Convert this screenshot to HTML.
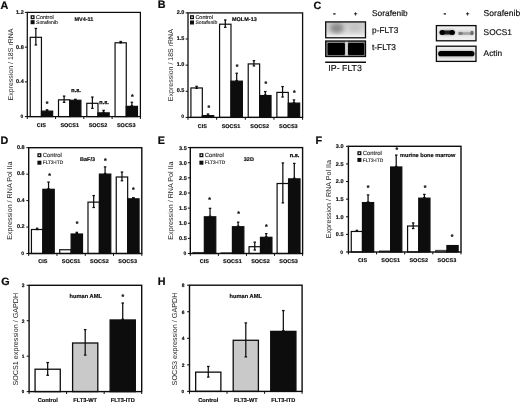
<!DOCTYPE html>
<html><head><meta charset="utf-8"><title>Figure</title>
<style>
html,body{margin:0;padding:0;background:#fff;}
svg{display:block;will-change:transform;text-rendering:geometricPrecision;font-family:"Liberation Sans",sans-serif;}
</style></head><body>
<svg width="520" height="402" viewBox="0 0 520 402">
<defs>
<filter id="b1" x="-30%" y="-30%" width="160%" height="160%"><feGaussianBlur stdDeviation="1.1"/></filter>
<filter id="b2" x="-30%" y="-30%" width="160%" height="160%"><feGaussianBlur stdDeviation="2.2"/></filter>
<filter id="b05" x="-30%" y="-30%" width="160%" height="160%"><feGaussianBlur stdDeviation="0.6"/></filter>
<linearGradient id="pg" x1="0" y1="0" x2="0" y2="1"><stop offset="0" stop-color="#c6c6c6"/><stop offset="0.6" stop-color="#d8d8d8"/><stop offset="1" stop-color="#ececec"/></linearGradient>
<clipPath id="cp1"><rect x="325.7" y="21.9" width="39.8" height="15.9"/></clipPath>
<clipPath id="cp2"><rect x="325.7" y="41" width="39.8" height="15.5"/></clipPath>
<clipPath id="cp3"><rect x="436.4" y="25.6" width="39.6" height="15.2"/></clipPath>
<clipPath id="cp4"><rect x="436.4" y="46.2" width="39.6" height="15.2"/></clipPath>
</defs>
<rect width="520" height="402" fill="#fff"/>

<rect x="30.24" y="37.31" width="11.20" height="79.29" fill="#fff" stroke="#0d0d0d" stroke-width="1.2"/>
<line x1="35.84" y1="28.46" x2="35.84" y2="44.96" stroke="#0d0d0d" stroke-width="1.25"/>
<line x1="34.59" y1="28.46" x2="37.09" y2="28.46" stroke="#0d0d0d" stroke-width="1.25"/>
<line x1="34.59" y1="44.96" x2="37.09" y2="44.96" stroke="#0d0d0d" stroke-width="1.25"/>
<rect x="41.44" y="111.12" width="11.20" height="5.48" fill="#0d0d0d" stroke="#0d0d0d" stroke-width="1.2"/>
<line x1="47.04" y1="109.83" x2="47.04" y2="110.52" stroke="#0d0d0d" stroke-width="1.25"/>
<line x1="45.79" y1="109.83" x2="48.29" y2="109.83" stroke="#0d0d0d" stroke-width="1.25"/>
<line x1="45.79" y1="110.52" x2="48.29" y2="110.52" stroke="#0d0d0d" stroke-width="1.25"/>
<rect x="58.51" y="99.83" width="11.20" height="16.77" fill="#fff" stroke="#0d0d0d" stroke-width="1.2"/>
<line x1="64.11" y1="96.11" x2="64.11" y2="102.36" stroke="#0d0d0d" stroke-width="1.25"/>
<line x1="62.86" y1="96.11" x2="65.36" y2="96.11" stroke="#0d0d0d" stroke-width="1.25"/>
<line x1="62.86" y1="102.36" x2="65.36" y2="102.36" stroke="#0d0d0d" stroke-width="1.25"/>
<rect x="69.71" y="100.27" width="11.20" height="16.33" fill="#0d0d0d" stroke="#0d0d0d" stroke-width="1.2"/>
<line x1="75.31" y1="99.32" x2="75.31" y2="99.67" stroke="#0d0d0d" stroke-width="1.25"/>
<line x1="74.06" y1="99.32" x2="76.56" y2="99.32" stroke="#0d0d0d" stroke-width="1.25"/>
<line x1="74.06" y1="99.67" x2="76.56" y2="99.67" stroke="#0d0d0d" stroke-width="1.25"/>
<rect x="86.79" y="103.31" width="11.20" height="13.29" fill="#fff" stroke="#0d0d0d" stroke-width="1.2"/>
<line x1="92.39" y1="97.06" x2="92.39" y2="108.35" stroke="#0d0d0d" stroke-width="1.25"/>
<line x1="91.14" y1="97.06" x2="93.64" y2="97.06" stroke="#0d0d0d" stroke-width="1.25"/>
<line x1="91.14" y1="108.35" x2="93.64" y2="108.35" stroke="#0d0d0d" stroke-width="1.25"/>
<rect x="97.99" y="112.86" width="11.20" height="3.74" fill="#0d0d0d" stroke="#0d0d0d" stroke-width="1.2"/>
<line x1="103.59" y1="110.35" x2="103.59" y2="112.26" stroke="#0d0d0d" stroke-width="1.25"/>
<line x1="102.34" y1="110.35" x2="104.84" y2="110.35" stroke="#0d0d0d" stroke-width="1.25"/>
<line x1="102.34" y1="112.26" x2="104.84" y2="112.26" stroke="#0d0d0d" stroke-width="1.25"/>
<rect x="115.06" y="42.78" width="11.20" height="73.82" fill="#fff" stroke="#0d0d0d" stroke-width="1.2"/>
<line x1="120.66" y1="41.49" x2="120.66" y2="42.88" stroke="#0d0d0d" stroke-width="1.25"/>
<line x1="119.41" y1="41.49" x2="121.91" y2="41.49" stroke="#0d0d0d" stroke-width="1.25"/>
<line x1="119.41" y1="42.88" x2="121.91" y2="42.88" stroke="#0d0d0d" stroke-width="1.25"/>
<rect x="126.26" y="106.35" width="11.20" height="10.25" fill="#0d0d0d" stroke="#0d0d0d" stroke-width="1.2"/>
<line x1="131.86" y1="102.27" x2="131.86" y2="105.75" stroke="#0d0d0d" stroke-width="1.25"/>
<line x1="130.61" y1="102.27" x2="133.11" y2="102.27" stroke="#0d0d0d" stroke-width="1.25"/>
<line x1="130.61" y1="105.75" x2="133.11" y2="105.75" stroke="#0d0d0d" stroke-width="1.25"/>
<rect x="27.30" y="12.40" width="113.10" height="104.20" fill="none" stroke="#0d0d0d" stroke-width="1.25"/>
<line x1="24.90" y1="12.40" x2="27.30" y2="12.40" stroke="#0d0d0d" stroke-width="1.0"/>
<text font-size="55.0" font-weight="bold" stroke="#0d0d0d" stroke-width="1.80" text-anchor="end" fill="#0d0d0d" transform="translate(23.70 13.80) rotate(0.03) scale(0.1)">1.2</text>
<line x1="24.90" y1="47.13" x2="27.30" y2="47.13" stroke="#0d0d0d" stroke-width="1.0"/>
<text font-size="55.0" font-weight="bold" stroke="#0d0d0d" stroke-width="1.80" text-anchor="end" fill="#0d0d0d" transform="translate(23.70 48.53) rotate(0.03) scale(0.1)">0.8</text>
<line x1="24.90" y1="81.87" x2="27.30" y2="81.87" stroke="#0d0d0d" stroke-width="1.0"/>
<text font-size="55.0" font-weight="bold" stroke="#0d0d0d" stroke-width="1.80" text-anchor="end" fill="#0d0d0d" transform="translate(23.70 83.27) rotate(0.03) scale(0.1)">0.4</text>
<line x1="24.90" y1="116.60" x2="27.30" y2="116.60" stroke="#0d0d0d" stroke-width="1.0"/>
<text font-size="49.5" font-weight="bold" stroke="#0d0d0d" stroke-width="1.80" text-anchor="end" fill="#0d0d0d" transform="translate(23.20 117.90) rotate(0.03) scale(0.1)">0</text>
<line x1="27.30" y1="116.60" x2="27.30" y2="119.00" stroke="#0d0d0d" stroke-width="1.0"/>
<line x1="55.58" y1="116.60" x2="55.58" y2="119.00" stroke="#0d0d0d" stroke-width="1.0"/>
<line x1="83.85" y1="116.60" x2="83.85" y2="119.00" stroke="#0d0d0d" stroke-width="1.0"/>
<line x1="112.12" y1="116.60" x2="112.12" y2="119.00" stroke="#0d0d0d" stroke-width="1.0"/>
<line x1="140.40" y1="116.60" x2="140.40" y2="119.00" stroke="#0d0d0d" stroke-width="1.0"/>
<text font-size="55.0" font-weight="bold" stroke="#0d0d0d" stroke-width="1.80" text-anchor="middle" fill="#0d0d0d" transform="translate(41.44 126.80) rotate(0.03) scale(0.1)">CIS</text>
<text font-size="55.0" font-weight="bold" stroke="#0d0d0d" stroke-width="1.80" text-anchor="middle" fill="#0d0d0d" transform="translate(69.71 126.80) rotate(0.03) scale(0.1)">SOCS1</text>
<text font-size="55.0" font-weight="bold" stroke="#0d0d0d" stroke-width="1.80" text-anchor="middle" fill="#0d0d0d" transform="translate(97.99 126.80) rotate(0.03) scale(0.1)">SOCS2</text>
<text font-size="55.0" font-weight="bold" stroke="#0d0d0d" stroke-width="1.80" text-anchor="middle" fill="#0d0d0d" transform="translate(126.26 126.80) rotate(0.03) scale(0.1)">SOCS3</text>
<text font-size="70.0" text-anchor="middle" fill="#222" transform="translate(12.60 64.50) rotate(-90) scale(0.1)">Expression / 18S rRNA</text>
<text font-size="108.0" font-weight="bold" stroke="#0d0d0d" stroke-width="2.50" text-anchor="start" fill="#0d0d0d" transform="translate(0.60 9.40) rotate(0.03) scale(0.1)">A</text>
<rect x="31.25" y="15.85" width="2.70" height="2.70" fill="#fff" stroke="#0d0d0d" stroke-width="1.3"/>
<rect x="31.25" y="20.85" width="2.70" height="2.70" fill="#0d0d0d" stroke="#0d0d0d" stroke-width="1.3"/>
<text font-size="55.0" stroke="#1c1c1c" stroke-width="1.40" text-anchor="start" fill="#1c1c1c" transform="translate(36.00 19.00) rotate(0.03) scale(0.1)">Control</text>
<text font-size="51.0" stroke="#1c1c1c" stroke-width="1.40" text-anchor="start" fill="#1c1c1c" transform="translate(36.00 23.90) rotate(0.03) scale(0.1)">Sorafenib</text>
<text font-size="55.0" font-weight="bold" stroke="#0d0d0d" stroke-width="1.80" text-anchor="start" fill="#0d0d0d" transform="translate(74.40 20.90) rotate(0.03) scale(0.1)">MV4-11</text>
<text font-size="69" font-weight="bold" stroke="#0d0d0d" stroke-width="2.2" text-anchor="middle" fill="#0d0d0d" transform="translate(47.00 106.35) rotate(0.03) scale(0.1)">*</text>
<text font-size="69" font-weight="bold" stroke="#0d0d0d" stroke-width="2.2" text-anchor="middle" fill="#0d0d0d" transform="translate(132.30 98.65) rotate(0.03) scale(0.1)">*</text>
<text font-size="55.0" font-weight="bold" stroke="#0d0d0d" stroke-width="3.20" text-anchor="start" fill="#0d0d0d" transform="translate(71.30 91.60) rotate(0.03) scale(0.1)">n.s.</text>
<text font-size="55.0" font-weight="bold" stroke="#0d0d0d" stroke-width="3.20" text-anchor="start" fill="#0d0d0d" transform="translate(99.30 103.50) rotate(0.03) scale(0.1)">n.s.</text>
<rect x="190.92" y="87.96" width="11.40" height="29.44" fill="#fff" stroke="#0d0d0d" stroke-width="1.2"/>
<line x1="196.62" y1="86.31" x2="196.62" y2="88.40" stroke="#0d0d0d" stroke-width="1.25"/>
<line x1="195.37" y1="86.31" x2="197.87" y2="86.31" stroke="#0d0d0d" stroke-width="1.25"/>
<line x1="195.37" y1="88.40" x2="197.87" y2="88.40" stroke="#0d0d0d" stroke-width="1.25"/>
<rect x="202.32" y="115.65" width="11.40" height="1.75" fill="#0d0d0d" stroke="#0d0d0d" stroke-width="1.2"/>
<line x1="208.02" y1="114.00" x2="208.02" y2="115.05" stroke="#0d0d0d" stroke-width="1.25"/>
<line x1="206.77" y1="114.00" x2="209.27" y2="114.00" stroke="#0d0d0d" stroke-width="1.25"/>
<line x1="206.77" y1="115.05" x2="209.27" y2="115.05" stroke="#0d0d0d" stroke-width="1.25"/>
<rect x="219.58" y="24.21" width="11.40" height="93.19" fill="#fff" stroke="#0d0d0d" stroke-width="1.2"/>
<line x1="225.28" y1="19.95" x2="225.28" y2="27.27" stroke="#0d0d0d" stroke-width="1.25"/>
<line x1="224.03" y1="19.95" x2="226.53" y2="19.95" stroke="#0d0d0d" stroke-width="1.25"/>
<line x1="224.03" y1="27.27" x2="226.53" y2="27.27" stroke="#0d0d0d" stroke-width="1.25"/>
<rect x="230.98" y="81.16" width="11.40" height="36.24" fill="#0d0d0d" stroke="#0d0d0d" stroke-width="1.2"/>
<line x1="236.68" y1="73.25" x2="236.68" y2="80.56" stroke="#0d0d0d" stroke-width="1.25"/>
<line x1="235.43" y1="73.25" x2="237.93" y2="73.25" stroke="#0d0d0d" stroke-width="1.25"/>
<line x1="235.43" y1="80.56" x2="237.93" y2="80.56" stroke="#0d0d0d" stroke-width="1.25"/>
<rect x="248.22" y="63.92" width="11.40" height="53.48" fill="#fff" stroke="#0d0d0d" stroke-width="1.2"/>
<line x1="253.92" y1="60.71" x2="253.92" y2="65.93" stroke="#0d0d0d" stroke-width="1.25"/>
<line x1="252.67" y1="60.71" x2="255.17" y2="60.71" stroke="#0d0d0d" stroke-width="1.25"/>
<line x1="252.67" y1="65.93" x2="255.17" y2="65.93" stroke="#0d0d0d" stroke-width="1.25"/>
<rect x="259.62" y="95.53" width="11.40" height="21.87" fill="#0d0d0d" stroke="#0d0d0d" stroke-width="1.2"/>
<line x1="265.32" y1="91.54" x2="265.32" y2="94.93" stroke="#0d0d0d" stroke-width="1.25"/>
<line x1="264.07" y1="91.54" x2="266.57" y2="91.54" stroke="#0d0d0d" stroke-width="1.25"/>
<line x1="264.07" y1="94.93" x2="266.57" y2="94.93" stroke="#0d0d0d" stroke-width="1.25"/>
<rect x="276.88" y="92.40" width="11.40" height="25.00" fill="#fff" stroke="#0d0d0d" stroke-width="1.2"/>
<line x1="282.58" y1="86.57" x2="282.58" y2="97.02" stroke="#0d0d0d" stroke-width="1.25"/>
<line x1="281.33" y1="86.57" x2="283.83" y2="86.57" stroke="#0d0d0d" stroke-width="1.25"/>
<line x1="281.33" y1="97.02" x2="283.83" y2="97.02" stroke="#0d0d0d" stroke-width="1.25"/>
<rect x="288.28" y="103.11" width="11.40" height="14.29" fill="#0d0d0d" stroke="#0d0d0d" stroke-width="1.2"/>
<line x1="293.98" y1="99.90" x2="293.98" y2="102.51" stroke="#0d0d0d" stroke-width="1.25"/>
<line x1="292.73" y1="99.90" x2="295.23" y2="99.90" stroke="#0d0d0d" stroke-width="1.25"/>
<line x1="292.73" y1="102.51" x2="295.23" y2="102.51" stroke="#0d0d0d" stroke-width="1.25"/>
<rect x="188.00" y="12.90" width="114.60" height="104.50" fill="none" stroke="#0d0d0d" stroke-width="1.3"/>
<line x1="185.60" y1="12.90" x2="188.00" y2="12.90" stroke="#0d0d0d" stroke-width="1.0"/>
<text font-size="55.0" font-weight="bold" stroke="#0d0d0d" stroke-width="1.80" text-anchor="end" fill="#0d0d0d" transform="translate(184.40 14.00) rotate(0.03) scale(0.1)">2.0</text>
<line x1="185.60" y1="39.03" x2="188.00" y2="39.03" stroke="#0d0d0d" stroke-width="1.0"/>
<text font-size="55.0" font-weight="bold" stroke="#0d0d0d" stroke-width="1.80" text-anchor="end" fill="#0d0d0d" transform="translate(184.40 40.13) rotate(0.03) scale(0.1)">1.5</text>
<line x1="185.60" y1="65.15" x2="188.00" y2="65.15" stroke="#0d0d0d" stroke-width="1.0"/>
<text font-size="55.0" font-weight="bold" stroke="#0d0d0d" stroke-width="1.80" text-anchor="end" fill="#0d0d0d" transform="translate(184.40 66.25) rotate(0.03) scale(0.1)">1.0</text>
<line x1="185.60" y1="91.28" x2="188.00" y2="91.28" stroke="#0d0d0d" stroke-width="1.0"/>
<text font-size="55.0" font-weight="bold" stroke="#0d0d0d" stroke-width="1.80" text-anchor="end" fill="#0d0d0d" transform="translate(184.40 92.38) rotate(0.03) scale(0.1)">0.5</text>
<line x1="185.60" y1="117.40" x2="188.00" y2="117.40" stroke="#0d0d0d" stroke-width="1.0"/>
<text font-size="49.5" font-weight="bold" stroke="#0d0d0d" stroke-width="1.80" text-anchor="end" fill="#0d0d0d" transform="translate(183.90 118.40) rotate(0.03) scale(0.1)">0</text>
<line x1="188.00" y1="117.40" x2="188.00" y2="119.80" stroke="#0d0d0d" stroke-width="1.0"/>
<line x1="216.65" y1="117.40" x2="216.65" y2="119.80" stroke="#0d0d0d" stroke-width="1.0"/>
<line x1="245.30" y1="117.40" x2="245.30" y2="119.80" stroke="#0d0d0d" stroke-width="1.0"/>
<line x1="273.95" y1="117.40" x2="273.95" y2="119.80" stroke="#0d0d0d" stroke-width="1.0"/>
<line x1="302.60" y1="117.40" x2="302.60" y2="119.80" stroke="#0d0d0d" stroke-width="1.0"/>
<text font-size="55.0" font-weight="bold" stroke="#0d0d0d" stroke-width="1.80" text-anchor="middle" fill="#0d0d0d" transform="translate(202.32 128.20) rotate(0.03) scale(0.1)">CIS</text>
<text font-size="55.0" font-weight="bold" stroke="#0d0d0d" stroke-width="1.80" text-anchor="middle" fill="#0d0d0d" transform="translate(230.98 128.20) rotate(0.03) scale(0.1)">SOCS1</text>
<text font-size="55.0" font-weight="bold" stroke="#0d0d0d" stroke-width="1.80" text-anchor="middle" fill="#0d0d0d" transform="translate(259.62 128.20) rotate(0.03) scale(0.1)">SOCS2</text>
<text font-size="55.0" font-weight="bold" stroke="#0d0d0d" stroke-width="1.80" text-anchor="middle" fill="#0d0d0d" transform="translate(288.28 128.20) rotate(0.03) scale(0.1)">SOCS3</text>
<text font-size="70.0" text-anchor="middle" fill="#222" transform="translate(172.90 65.15) rotate(-90) scale(0.1)">Expression / 18S rRNA</text>
<text font-size="108.0" font-weight="bold" stroke="#0d0d0d" stroke-width="2.50" text-anchor="start" fill="#0d0d0d" transform="translate(157.70 8.40) rotate(0.03) scale(0.1)">B</text>
<rect x="190.65" y="15.85" width="2.70" height="2.70" fill="#fff" stroke="#0d0d0d" stroke-width="1.3"/>
<rect x="190.65" y="21.15" width="2.70" height="2.70" fill="#0d0d0d" stroke="#0d0d0d" stroke-width="1.3"/>
<text font-size="55.0" stroke="#1c1c1c" stroke-width="1.40" text-anchor="start" fill="#1c1c1c" transform="translate(195.40 19.00) rotate(0.03) scale(0.1)">Control</text>
<text font-size="51.0" stroke="#1c1c1c" stroke-width="1.40" text-anchor="start" fill="#1c1c1c" transform="translate(195.40 24.20) rotate(0.03) scale(0.1)">Sorafenib</text>
<text font-size="55.0" font-weight="bold" stroke="#0d0d0d" stroke-width="1.80" text-anchor="start" fill="#0d0d0d" transform="translate(232.00 20.80) rotate(0.03) scale(0.1)">MOLM-13</text>
<text font-size="69" font-weight="bold" stroke="#0d0d0d" stroke-width="2.2" text-anchor="middle" fill="#0d0d0d" transform="translate(208.75 110.10) rotate(0.03) scale(0.1)">*</text>
<text font-size="69" font-weight="bold" stroke="#0d0d0d" stroke-width="2.2" text-anchor="middle" fill="#0d0d0d" transform="translate(237.00 68.85) rotate(0.03) scale(0.1)">*</text>
<text font-size="69" font-weight="bold" stroke="#0d0d0d" stroke-width="2.2" text-anchor="middle" fill="#0d0d0d" transform="translate(265.75 85.85) rotate(0.03) scale(0.1)">*</text>
<text font-size="69" font-weight="bold" stroke="#0d0d0d" stroke-width="2.2" text-anchor="middle" fill="#0d0d0d" transform="translate(294.25 95.10) rotate(0.03) scale(0.1)">*</text>
<rect x="31.44" y="229.50" width="11.40" height="24.00" fill="#fff" stroke="#0d0d0d" stroke-width="1.2"/>
<line x1="37.14" y1="228.24" x2="37.14" y2="229.56" stroke="#0d0d0d" stroke-width="1.25"/>
<line x1="35.89" y1="228.24" x2="38.39" y2="228.24" stroke="#0d0d0d" stroke-width="1.25"/>
<line x1="35.89" y1="229.56" x2="38.39" y2="229.56" stroke="#0d0d0d" stroke-width="1.25"/>
<rect x="42.84" y="189.30" width="11.40" height="64.20" fill="#0d0d0d" stroke="#0d0d0d" stroke-width="1.2"/>
<line x1="48.54" y1="182.08" x2="48.54" y2="188.70" stroke="#0d0d0d" stroke-width="1.25"/>
<line x1="47.29" y1="182.08" x2="49.79" y2="182.08" stroke="#0d0d0d" stroke-width="1.25"/>
<line x1="47.29" y1="188.70" x2="49.79" y2="188.70" stroke="#0d0d0d" stroke-width="1.25"/>
<rect x="59.71" y="249.74" width="11.40" height="3.76" fill="#fff" stroke="#0d0d0d" stroke-width="1.2"/>
<rect x="71.11" y="234.00" width="11.40" height="19.50" fill="#0d0d0d" stroke="#0d0d0d" stroke-width="1.2"/>
<line x1="76.81" y1="232.34" x2="76.81" y2="233.40" stroke="#0d0d0d" stroke-width="1.25"/>
<line x1="75.56" y1="232.34" x2="78.06" y2="232.34" stroke="#0d0d0d" stroke-width="1.25"/>
<line x1="75.56" y1="233.40" x2="78.06" y2="233.40" stroke="#0d0d0d" stroke-width="1.25"/>
<rect x="87.99" y="202.13" width="11.40" height="51.37" fill="#fff" stroke="#0d0d0d" stroke-width="1.2"/>
<line x1="93.69" y1="195.57" x2="93.69" y2="207.48" stroke="#0d0d0d" stroke-width="1.25"/>
<line x1="92.44" y1="195.57" x2="94.94" y2="195.57" stroke="#0d0d0d" stroke-width="1.25"/>
<line x1="92.44" y1="207.48" x2="94.94" y2="207.48" stroke="#0d0d0d" stroke-width="1.25"/>
<rect x="99.39" y="174.09" width="11.40" height="79.41" fill="#0d0d0d" stroke="#0d0d0d" stroke-width="1.2"/>
<line x1="105.09" y1="166.88" x2="105.09" y2="173.49" stroke="#0d0d0d" stroke-width="1.25"/>
<line x1="103.84" y1="166.88" x2="106.34" y2="166.88" stroke="#0d0d0d" stroke-width="1.25"/>
<line x1="103.84" y1="173.49" x2="106.34" y2="173.49" stroke="#0d0d0d" stroke-width="1.25"/>
<rect x="116.26" y="177.00" width="11.40" height="76.50" fill="#fff" stroke="#0d0d0d" stroke-width="1.2"/>
<line x1="121.96" y1="172.03" x2="121.96" y2="180.76" stroke="#0d0d0d" stroke-width="1.25"/>
<line x1="120.71" y1="172.03" x2="123.21" y2="172.03" stroke="#0d0d0d" stroke-width="1.25"/>
<line x1="120.71" y1="180.76" x2="123.21" y2="180.76" stroke="#0d0d0d" stroke-width="1.25"/>
<rect x="127.66" y="198.82" width="11.40" height="54.68" fill="#0d0d0d" stroke="#0d0d0d" stroke-width="1.2"/>
<line x1="133.36" y1="197.69" x2="133.36" y2="198.22" stroke="#0d0d0d" stroke-width="1.25"/>
<line x1="132.11" y1="197.69" x2="134.61" y2="197.69" stroke="#0d0d0d" stroke-width="1.25"/>
<line x1="132.11" y1="198.22" x2="134.61" y2="198.22" stroke="#0d0d0d" stroke-width="1.25"/>
<rect x="28.70" y="147.70" width="113.10" height="105.80" fill="none" stroke="#0d0d0d" stroke-width="1.4"/>
<line x1="26.30" y1="147.70" x2="28.70" y2="147.70" stroke="#0d0d0d" stroke-width="1.0"/>
<text font-size="55.0" font-weight="bold" stroke="#0d0d0d" stroke-width="1.80" text-anchor="end" fill="#0d0d0d" transform="translate(24.60 149.00) rotate(0.03) scale(0.1)">0.8</text>
<line x1="26.30" y1="174.15" x2="28.70" y2="174.15" stroke="#0d0d0d" stroke-width="1.0"/>
<text font-size="55.0" font-weight="bold" stroke="#0d0d0d" stroke-width="1.80" text-anchor="end" fill="#0d0d0d" transform="translate(24.60 175.45) rotate(0.03) scale(0.1)">0.6</text>
<line x1="26.30" y1="200.60" x2="28.70" y2="200.60" stroke="#0d0d0d" stroke-width="1.0"/>
<text font-size="55.0" font-weight="bold" stroke="#0d0d0d" stroke-width="1.80" text-anchor="end" fill="#0d0d0d" transform="translate(24.60 201.90) rotate(0.03) scale(0.1)">0.4</text>
<line x1="26.30" y1="227.05" x2="28.70" y2="227.05" stroke="#0d0d0d" stroke-width="1.0"/>
<text font-size="55.0" font-weight="bold" stroke="#0d0d0d" stroke-width="1.80" text-anchor="end" fill="#0d0d0d" transform="translate(24.60 228.35) rotate(0.03) scale(0.1)">0.2</text>
<line x1="26.30" y1="253.50" x2="28.70" y2="253.50" stroke="#0d0d0d" stroke-width="1.0"/>
<text font-size="49.5" font-weight="bold" stroke="#0d0d0d" stroke-width="1.80" text-anchor="end" fill="#0d0d0d" transform="translate(24.10 254.70) rotate(0.03) scale(0.1)">0</text>
<line x1="28.70" y1="253.50" x2="28.70" y2="255.90" stroke="#0d0d0d" stroke-width="1.0"/>
<line x1="56.98" y1="253.50" x2="56.98" y2="255.90" stroke="#0d0d0d" stroke-width="1.0"/>
<line x1="85.25" y1="253.50" x2="85.25" y2="255.90" stroke="#0d0d0d" stroke-width="1.0"/>
<line x1="113.53" y1="253.50" x2="113.53" y2="255.90" stroke="#0d0d0d" stroke-width="1.0"/>
<line x1="141.80" y1="253.50" x2="141.80" y2="255.90" stroke="#0d0d0d" stroke-width="1.0"/>
<text font-size="55.0" font-weight="bold" stroke="#0d0d0d" stroke-width="1.80" text-anchor="middle" fill="#0d0d0d" transform="translate(42.84 263.30) rotate(0.03) scale(0.1)">CIS</text>
<text font-size="55.0" font-weight="bold" stroke="#0d0d0d" stroke-width="1.80" text-anchor="middle" fill="#0d0d0d" transform="translate(71.11 263.30) rotate(0.03) scale(0.1)">SOCS1</text>
<text font-size="55.0" font-weight="bold" stroke="#0d0d0d" stroke-width="1.80" text-anchor="middle" fill="#0d0d0d" transform="translate(99.39 263.30) rotate(0.03) scale(0.1)">SOCS2</text>
<text font-size="55.0" font-weight="bold" stroke="#0d0d0d" stroke-width="1.80" text-anchor="middle" fill="#0d0d0d" transform="translate(127.66 263.30) rotate(0.03) scale(0.1)">SOCS3</text>
<text font-size="71.5" text-anchor="middle" fill="#222" transform="translate(12.00 200.60) rotate(-90) scale(0.1)">Expression / RNA Pol IIa</text>
<text font-size="108.0" font-weight="bold" stroke="#0d0d0d" stroke-width="2.50" text-anchor="start" fill="#0d0d0d" transform="translate(0.40 143.70) rotate(0.03) scale(0.1)">D</text>
<rect x="38.05" y="153.85" width="2.70" height="2.70" fill="#fff" stroke="#0d0d0d" stroke-width="1.3"/>
<rect x="38.05" y="161.35" width="2.70" height="2.70" fill="#0d0d0d" stroke="#0d0d0d" stroke-width="1.3"/>
<text font-size="59.0" stroke="#1c1c1c" stroke-width="1.40" text-anchor="start" fill="#1c1c1c" transform="translate(42.80 157.00) rotate(0.03) scale(0.1)">Control</text>
<text font-size="48.5" stroke="#1c1c1c" stroke-width="1.40" text-anchor="start" fill="#1c1c1c" transform="translate(42.80 164.40) rotate(0.03) scale(0.1)">FLT3-ITD</text>
<text font-size="55.0" font-weight="bold" stroke="#0d0d0d" stroke-width="1.80" text-anchor="start" fill="#0d0d0d" transform="translate(80.00 161.00) rotate(0.03) scale(0.1)">BaF/3</text>
<text font-size="69" font-weight="bold" stroke="#0d0d0d" stroke-width="2.2" text-anchor="middle" fill="#0d0d0d" transform="translate(49.50 177.95) rotate(0.03) scale(0.1)">*</text>
<text font-size="69" font-weight="bold" stroke="#0d0d0d" stroke-width="2.2" text-anchor="middle" fill="#0d0d0d" transform="translate(77.00 226.25) rotate(0.03) scale(0.1)">*</text>
<text font-size="69" font-weight="bold" stroke="#0d0d0d" stroke-width="2.2" text-anchor="middle" fill="#0d0d0d" transform="translate(105.30 163.45) rotate(0.03) scale(0.1)">*</text>
<text font-size="69" font-weight="bold" stroke="#0d0d0d" stroke-width="2.2" text-anchor="middle" fill="#0d0d0d" transform="translate(133.30 191.65) rotate(0.03) scale(0.1)">*</text>
<rect x="192.89" y="252.39" width="11.45" height="1.11" fill="#d8d8d8" stroke="#0d0d0d" stroke-width="0.8"/>
<rect x="204.34" y="216.79" width="11.45" height="36.71" fill="#0d0d0d" stroke="#0d0d0d" stroke-width="1.2"/>
<line x1="210.06" y1="208.33" x2="210.06" y2="216.19" stroke="#0d0d0d" stroke-width="1.25"/>
<line x1="208.81" y1="208.33" x2="211.31" y2="208.33" stroke="#0d0d0d" stroke-width="1.25"/>
<line x1="208.81" y1="216.19" x2="211.31" y2="216.19" stroke="#0d0d0d" stroke-width="1.25"/>
<rect x="220.96" y="252.84" width="11.45" height="0.66" fill="#d8d8d8" stroke="#0d0d0d" stroke-width="0.8"/>
<rect x="232.41" y="226.72" width="11.45" height="26.78" fill="#0d0d0d" stroke="#0d0d0d" stroke-width="1.2"/>
<line x1="238.14" y1="222.18" x2="238.14" y2="226.12" stroke="#0d0d0d" stroke-width="1.25"/>
<line x1="236.89" y1="222.18" x2="239.39" y2="222.18" stroke="#0d0d0d" stroke-width="1.25"/>
<line x1="236.89" y1="226.12" x2="239.39" y2="226.12" stroke="#0d0d0d" stroke-width="1.25"/>
<rect x="249.04" y="246.69" width="11.45" height="6.81" fill="#fff" stroke="#0d0d0d" stroke-width="1.2"/>
<line x1="254.76" y1="242.15" x2="254.76" y2="250.02" stroke="#0d0d0d" stroke-width="1.25"/>
<line x1="253.51" y1="242.15" x2="256.01" y2="242.15" stroke="#0d0d0d" stroke-width="1.25"/>
<line x1="253.51" y1="250.02" x2="256.01" y2="250.02" stroke="#0d0d0d" stroke-width="1.25"/>
<rect x="260.49" y="237.31" width="11.45" height="16.19" fill="#0d0d0d" stroke="#0d0d0d" stroke-width="1.2"/>
<line x1="266.21" y1="233.68" x2="266.21" y2="236.71" stroke="#0d0d0d" stroke-width="1.25"/>
<line x1="264.96" y1="233.68" x2="267.46" y2="233.68" stroke="#0d0d0d" stroke-width="1.25"/>
<line x1="264.96" y1="236.71" x2="267.46" y2="236.71" stroke="#0d0d0d" stroke-width="1.25"/>
<rect x="277.11" y="183.51" width="11.45" height="69.99" fill="#fff" stroke="#0d0d0d" stroke-width="1.2"/>
<line x1="282.84" y1="162.94" x2="282.84" y2="202.88" stroke="#0d0d0d" stroke-width="1.25"/>
<line x1="281.59" y1="162.94" x2="284.09" y2="162.94" stroke="#0d0d0d" stroke-width="1.25"/>
<line x1="281.59" y1="202.88" x2="284.09" y2="202.88" stroke="#0d0d0d" stroke-width="1.25"/>
<rect x="288.56" y="178.85" width="11.45" height="74.65" fill="#0d0d0d" stroke="#0d0d0d" stroke-width="1.2"/>
<line x1="294.29" y1="163.42" x2="294.29" y2="178.25" stroke="#0d0d0d" stroke-width="1.25"/>
<line x1="293.04" y1="163.42" x2="295.54" y2="163.42" stroke="#0d0d0d" stroke-width="1.25"/>
<line x1="293.04" y1="178.25" x2="295.54" y2="178.25" stroke="#0d0d0d" stroke-width="1.25"/>
<rect x="190.30" y="147.60" width="112.30" height="105.90" fill="none" stroke="#0d0d0d" stroke-width="1.4"/>
<line x1="187.90" y1="147.60" x2="190.30" y2="147.60" stroke="#0d0d0d" stroke-width="1.0"/>
<text font-size="55.0" font-weight="bold" stroke="#0d0d0d" stroke-width="1.80" text-anchor="end" fill="#0d0d0d" transform="translate(186.70 149.60) rotate(0.03) scale(0.1)">3.5</text>
<line x1="187.90" y1="162.73" x2="190.30" y2="162.73" stroke="#0d0d0d" stroke-width="1.0"/>
<text font-size="55.0" font-weight="bold" stroke="#0d0d0d" stroke-width="1.80" text-anchor="end" fill="#0d0d0d" transform="translate(186.70 164.73) rotate(0.03) scale(0.1)">3.0</text>
<line x1="187.90" y1="177.86" x2="190.30" y2="177.86" stroke="#0d0d0d" stroke-width="1.0"/>
<text font-size="55.0" font-weight="bold" stroke="#0d0d0d" stroke-width="1.80" text-anchor="end" fill="#0d0d0d" transform="translate(186.70 179.86) rotate(0.03) scale(0.1)">2.5</text>
<line x1="187.90" y1="192.99" x2="190.30" y2="192.99" stroke="#0d0d0d" stroke-width="1.0"/>
<text font-size="55.0" font-weight="bold" stroke="#0d0d0d" stroke-width="1.80" text-anchor="end" fill="#0d0d0d" transform="translate(186.70 194.99) rotate(0.03) scale(0.1)">2.0</text>
<line x1="187.90" y1="208.11" x2="190.30" y2="208.11" stroke="#0d0d0d" stroke-width="1.0"/>
<text font-size="55.0" font-weight="bold" stroke="#0d0d0d" stroke-width="1.80" text-anchor="end" fill="#0d0d0d" transform="translate(186.70 210.11) rotate(0.03) scale(0.1)">1.5</text>
<line x1="187.90" y1="223.24" x2="190.30" y2="223.24" stroke="#0d0d0d" stroke-width="1.0"/>
<text font-size="55.0" font-weight="bold" stroke="#0d0d0d" stroke-width="1.80" text-anchor="end" fill="#0d0d0d" transform="translate(186.70 225.24) rotate(0.03) scale(0.1)">1.0</text>
<line x1="187.90" y1="238.37" x2="190.30" y2="238.37" stroke="#0d0d0d" stroke-width="1.0"/>
<text font-size="55.0" font-weight="bold" stroke="#0d0d0d" stroke-width="1.80" text-anchor="end" fill="#0d0d0d" transform="translate(186.70 240.37) rotate(0.03) scale(0.1)">0.5</text>
<line x1="187.90" y1="253.50" x2="190.30" y2="253.50" stroke="#0d0d0d" stroke-width="1.0"/>
<text font-size="49.5" font-weight="bold" stroke="#0d0d0d" stroke-width="1.80" text-anchor="end" fill="#0d0d0d" transform="translate(186.20 255.40) rotate(0.03) scale(0.1)">0</text>
<line x1="190.30" y1="253.50" x2="190.30" y2="255.90" stroke="#0d0d0d" stroke-width="1.0"/>
<line x1="218.38" y1="253.50" x2="218.38" y2="255.90" stroke="#0d0d0d" stroke-width="1.0"/>
<line x1="246.45" y1="253.50" x2="246.45" y2="255.90" stroke="#0d0d0d" stroke-width="1.0"/>
<line x1="274.53" y1="253.50" x2="274.53" y2="255.90" stroke="#0d0d0d" stroke-width="1.0"/>
<line x1="302.60" y1="253.50" x2="302.60" y2="255.90" stroke="#0d0d0d" stroke-width="1.0"/>
<text font-size="55.0" font-weight="bold" stroke="#0d0d0d" stroke-width="1.80" text-anchor="middle" fill="#0d0d0d" transform="translate(204.34 263.30) rotate(0.03) scale(0.1)">CIS</text>
<text font-size="55.0" font-weight="bold" stroke="#0d0d0d" stroke-width="1.80" text-anchor="middle" fill="#0d0d0d" transform="translate(232.41 263.30) rotate(0.03) scale(0.1)">SOCS1</text>
<text font-size="55.0" font-weight="bold" stroke="#0d0d0d" stroke-width="1.80" text-anchor="middle" fill="#0d0d0d" transform="translate(260.49 263.30) rotate(0.03) scale(0.1)">SOCS2</text>
<text font-size="55.0" font-weight="bold" stroke="#0d0d0d" stroke-width="1.80" text-anchor="middle" fill="#0d0d0d" transform="translate(288.56 263.30) rotate(0.03) scale(0.1)">SOCS3</text>
<text font-size="71.5" text-anchor="middle" fill="#222" transform="translate(173.30 200.55) rotate(-90) scale(0.1)">Expression / RNA Pol IIa</text>
<text font-size="108.0" font-weight="bold" stroke="#0d0d0d" stroke-width="2.50" text-anchor="start" fill="#0d0d0d" transform="translate(157.70 143.70) rotate(0.03) scale(0.1)">E</text>
<rect x="200.05" y="153.85" width="2.70" height="2.70" fill="#fff" stroke="#0d0d0d" stroke-width="1.3"/>
<rect x="200.05" y="161.35" width="2.70" height="2.70" fill="#0d0d0d" stroke="#0d0d0d" stroke-width="1.3"/>
<text font-size="59.0" stroke="#1c1c1c" stroke-width="1.40" text-anchor="start" fill="#1c1c1c" transform="translate(204.80 157.00) rotate(0.03) scale(0.1)">Control</text>
<text font-size="48.5" stroke="#1c1c1c" stroke-width="1.40" text-anchor="start" fill="#1c1c1c" transform="translate(204.80 164.40) rotate(0.03) scale(0.1)">FLT3-ITD</text>
<text font-size="55.0" font-weight="bold" stroke="#0d0d0d" stroke-width="1.80" text-anchor="start" fill="#0d0d0d" transform="translate(243.80 161.00) rotate(0.03) scale(0.1)">32D</text>
<text font-size="69" font-weight="bold" stroke="#0d0d0d" stroke-width="2.2" text-anchor="middle" fill="#0d0d0d" transform="translate(209.50 202.10) rotate(0.03) scale(0.1)">*</text>
<text font-size="69" font-weight="bold" stroke="#0d0d0d" stroke-width="2.2" text-anchor="middle" fill="#0d0d0d" transform="translate(238.50 216.35) rotate(0.03) scale(0.1)">*</text>
<text font-size="69" font-weight="bold" stroke="#0d0d0d" stroke-width="2.2" text-anchor="middle" fill="#0d0d0d" transform="translate(266.25 228.85) rotate(0.03) scale(0.1)">*</text>
<text font-size="55.0" font-weight="bold" stroke="#0d0d0d" stroke-width="3.20" text-anchor="start" fill="#0d0d0d" transform="translate(289.80 157.20) rotate(0.03) scale(0.1)">n.s.</text>
<rect x="351.27" y="231.46" width="11.20" height="20.54" fill="#fff" stroke="#0d0d0d" stroke-width="1.2"/>
<line x1="356.88" y1="230.33" x2="356.88" y2="231.39" stroke="#0d0d0d" stroke-width="1.25"/>
<line x1="355.62" y1="230.33" x2="358.12" y2="230.33" stroke="#0d0d0d" stroke-width="1.25"/>
<line x1="355.62" y1="231.39" x2="358.12" y2="231.39" stroke="#0d0d0d" stroke-width="1.25"/>
<rect x="362.47" y="202.57" width="11.20" height="49.43" fill="#0d0d0d" stroke="#0d0d0d" stroke-width="1.2"/>
<line x1="368.07" y1="194.92" x2="368.07" y2="201.97" stroke="#0d0d0d" stroke-width="1.25"/>
<line x1="366.82" y1="194.92" x2="369.32" y2="194.92" stroke="#0d0d0d" stroke-width="1.25"/>
<line x1="366.82" y1="201.97" x2="369.32" y2="201.97" stroke="#0d0d0d" stroke-width="1.25"/>
<rect x="379.42" y="250.99" width="11.20" height="1.01" fill="#d8d8d8" stroke="#0d0d0d" stroke-width="0.8"/>
<rect x="390.62" y="166.98" width="11.20" height="85.02" fill="#0d0d0d" stroke="#0d0d0d" stroke-width="1.2"/>
<line x1="396.22" y1="155.11" x2="396.22" y2="166.38" stroke="#0d0d0d" stroke-width="1.25"/>
<line x1="394.97" y1="155.11" x2="397.47" y2="155.11" stroke="#0d0d0d" stroke-width="1.25"/>
<line x1="394.97" y1="166.38" x2="397.47" y2="166.38" stroke="#0d0d0d" stroke-width="1.25"/>
<rect x="407.57" y="226.00" width="11.20" height="26.00" fill="#fff" stroke="#0d0d0d" stroke-width="1.2"/>
<line x1="413.18" y1="222.93" x2="413.18" y2="228.57" stroke="#0d0d0d" stroke-width="1.25"/>
<line x1="411.93" y1="222.93" x2="414.43" y2="222.93" stroke="#0d0d0d" stroke-width="1.25"/>
<line x1="411.93" y1="228.57" x2="414.43" y2="228.57" stroke="#0d0d0d" stroke-width="1.25"/>
<rect x="418.77" y="198.16" width="11.20" height="53.84" fill="#0d0d0d" stroke="#0d0d0d" stroke-width="1.2"/>
<line x1="424.38" y1="194.39" x2="424.38" y2="197.56" stroke="#0d0d0d" stroke-width="1.25"/>
<line x1="423.12" y1="194.39" x2="425.62" y2="194.39" stroke="#0d0d0d" stroke-width="1.25"/>
<line x1="423.12" y1="197.56" x2="425.62" y2="197.56" stroke="#0d0d0d" stroke-width="1.25"/>
<rect x="435.73" y="250.29" width="11.20" height="1.71" fill="#d8d8d8" stroke="#0d0d0d" stroke-width="0.8"/>
<rect x="446.93" y="245.55" width="11.20" height="6.45" fill="#0d0d0d" stroke="#0d0d0d" stroke-width="1.2"/>
<rect x="348.40" y="146.30" width="112.60" height="105.70" fill="none" stroke="#0d0d0d" stroke-width="1.4"/>
<line x1="346.00" y1="146.30" x2="348.40" y2="146.30" stroke="#0d0d0d" stroke-width="1.0"/>
<text font-size="55.0" font-weight="bold" stroke="#0d0d0d" stroke-width="1.80" text-anchor="end" fill="#0d0d0d" transform="translate(343.50 148.15) rotate(0.03) scale(0.1)">3.0</text>
<line x1="346.00" y1="163.92" x2="348.40" y2="163.92" stroke="#0d0d0d" stroke-width="1.0"/>
<text font-size="55.0" font-weight="bold" stroke="#0d0d0d" stroke-width="1.80" text-anchor="end" fill="#0d0d0d" transform="translate(343.50 165.77) rotate(0.03) scale(0.1)">2.5</text>
<line x1="346.00" y1="181.53" x2="348.40" y2="181.53" stroke="#0d0d0d" stroke-width="1.0"/>
<text font-size="55.0" font-weight="bold" stroke="#0d0d0d" stroke-width="1.80" text-anchor="end" fill="#0d0d0d" transform="translate(343.50 183.38) rotate(0.03) scale(0.1)">2.0</text>
<line x1="346.00" y1="199.15" x2="348.40" y2="199.15" stroke="#0d0d0d" stroke-width="1.0"/>
<text font-size="55.0" font-weight="bold" stroke="#0d0d0d" stroke-width="1.80" text-anchor="end" fill="#0d0d0d" transform="translate(343.50 201.00) rotate(0.03) scale(0.1)">1.5</text>
<line x1="346.00" y1="216.77" x2="348.40" y2="216.77" stroke="#0d0d0d" stroke-width="1.0"/>
<text font-size="55.0" font-weight="bold" stroke="#0d0d0d" stroke-width="1.80" text-anchor="end" fill="#0d0d0d" transform="translate(343.50 218.62) rotate(0.03) scale(0.1)">1.0</text>
<line x1="346.00" y1="234.38" x2="348.40" y2="234.38" stroke="#0d0d0d" stroke-width="1.0"/>
<text font-size="55.0" font-weight="bold" stroke="#0d0d0d" stroke-width="1.80" text-anchor="end" fill="#0d0d0d" transform="translate(343.50 236.23) rotate(0.03) scale(0.1)">0.5</text>
<line x1="346.00" y1="252.00" x2="348.40" y2="252.00" stroke="#0d0d0d" stroke-width="1.0"/>
<text font-size="49.5" font-weight="bold" stroke="#0d0d0d" stroke-width="1.80" text-anchor="end" fill="#0d0d0d" transform="translate(343.00 253.75) rotate(0.03) scale(0.1)">0</text>
<line x1="348.40" y1="252.00" x2="348.40" y2="254.40" stroke="#0d0d0d" stroke-width="1.0"/>
<line x1="376.55" y1="252.00" x2="376.55" y2="254.40" stroke="#0d0d0d" stroke-width="1.0"/>
<line x1="404.70" y1="252.00" x2="404.70" y2="254.40" stroke="#0d0d0d" stroke-width="1.0"/>
<line x1="432.85" y1="252.00" x2="432.85" y2="254.40" stroke="#0d0d0d" stroke-width="1.0"/>
<line x1="461.00" y1="252.00" x2="461.00" y2="254.40" stroke="#0d0d0d" stroke-width="1.0"/>
<text font-size="55.0" font-weight="bold" stroke="#0d0d0d" stroke-width="1.80" text-anchor="middle" fill="#0d0d0d" transform="translate(362.47 261.80) rotate(0.03) scale(0.1)">CIS</text>
<text font-size="55.0" font-weight="bold" stroke="#0d0d0d" stroke-width="1.80" text-anchor="middle" fill="#0d0d0d" transform="translate(390.62 261.80) rotate(0.03) scale(0.1)">SOCS1</text>
<text font-size="55.0" font-weight="bold" stroke="#0d0d0d" stroke-width="1.80" text-anchor="middle" fill="#0d0d0d" transform="translate(418.77 261.80) rotate(0.03) scale(0.1)">SOCS2</text>
<text font-size="55.0" font-weight="bold" stroke="#0d0d0d" stroke-width="1.80" text-anchor="middle" fill="#0d0d0d" transform="translate(446.93 261.80) rotate(0.03) scale(0.1)">SOCS3</text>
<text font-size="71.5" text-anchor="middle" fill="#222" transform="translate(331.00 199.15) rotate(-90) scale(0.1)">Expression / RNA Pol IIa</text>
<text font-size="108.0" font-weight="bold" stroke="#0d0d0d" stroke-width="2.50" text-anchor="start" fill="#0d0d0d" transform="translate(315.50 144.00) rotate(0.03) scale(0.1)">F</text>
<rect x="358.05" y="151.85" width="2.70" height="2.70" fill="#fff" stroke="#0d0d0d" stroke-width="1.3"/>
<rect x="358.05" y="158.55" width="2.70" height="2.70" fill="#0d0d0d" stroke="#0d0d0d" stroke-width="1.3"/>
<text font-size="59.0" stroke="#1c1c1c" stroke-width="1.40" text-anchor="start" fill="#1c1c1c" transform="translate(362.80 155.00) rotate(0.03) scale(0.1)">Control</text>
<text font-size="48.5" stroke="#1c1c1c" stroke-width="1.40" text-anchor="start" fill="#1c1c1c" transform="translate(362.80 161.60) rotate(0.03) scale(0.1)">FLT3-ITD</text>
<text font-size="56.0" font-weight="bold" stroke="#0d0d0d" stroke-width="1.80" text-anchor="start" fill="#0d0d0d" transform="translate(400.00 157.00) rotate(0.03) scale(0.1)">murine bone marrow</text>
<text font-size="69" font-weight="bold" stroke="#0d0d0d" stroke-width="2.2" text-anchor="middle" fill="#0d0d0d" transform="translate(368.00 189.60) rotate(0.03) scale(0.1)">*</text>
<text font-size="69" font-weight="bold" stroke="#0d0d0d" stroke-width="2.2" text-anchor="middle" fill="#0d0d0d" transform="translate(396.75 151.60) rotate(0.03) scale(0.1)">*</text>
<text font-size="69" font-weight="bold" stroke="#0d0d0d" stroke-width="2.2" text-anchor="middle" fill="#0d0d0d" transform="translate(425.00 189.60) rotate(0.03) scale(0.1)">*</text>
<text font-size="69" font-weight="bold" stroke="#0d0d0d" stroke-width="2.2" text-anchor="middle" fill="#0d0d0d" transform="translate(452.00 238.85) rotate(0.03) scale(0.1)">*</text>
<rect x="35.07" y="369.22" width="25.20" height="22.38" fill="#fff" stroke="#0d0d0d" stroke-width="1.3"/>
<line x1="47.67" y1="362.54" x2="47.67" y2="375.30" stroke="#0d0d0d" stroke-width="1.25"/>
<line x1="46.37" y1="362.54" x2="48.97" y2="362.54" stroke="#0d0d0d" stroke-width="1.25"/>
<line x1="46.37" y1="375.30" x2="48.97" y2="375.30" stroke="#0d0d0d" stroke-width="1.25"/>
<rect x="72.60" y="343.00" width="25.20" height="48.60" fill="#c9c9c9" stroke="#0d0d0d" stroke-width="1.3"/>
<line x1="85.20" y1="329.59" x2="85.20" y2="355.10" stroke="#0d0d0d" stroke-width="1.25"/>
<line x1="83.90" y1="329.59" x2="86.50" y2="329.59" stroke="#0d0d0d" stroke-width="1.25"/>
<line x1="83.90" y1="355.10" x2="86.50" y2="355.10" stroke="#0d0d0d" stroke-width="1.25"/>
<rect x="110.13" y="319.97" width="25.20" height="71.63" fill="#0d0d0d" stroke="#0d0d0d" stroke-width="1.3"/>
<line x1="122.73" y1="303.02" x2="122.73" y2="319.32" stroke="#0d0d0d" stroke-width="1.25"/>
<line x1="121.43" y1="303.02" x2="124.03" y2="303.02" stroke="#0d0d0d" stroke-width="1.25"/>
<line x1="121.43" y1="319.32" x2="124.03" y2="319.32" stroke="#0d0d0d" stroke-width="1.25"/>
<rect x="29.10" y="285.30" width="112.60" height="106.30" fill="none" stroke="#0d0d0d" stroke-width="1.4"/>
<line x1="26.70" y1="285.30" x2="29.10" y2="285.30" stroke="#0d0d0d" stroke-width="1.0"/>
<text font-size="49.0" font-weight="bold" stroke="#0d0d0d" stroke-width="1.80" text-anchor="end" fill="#0d0d0d" transform="translate(24.60 287.30) rotate(0.03) scale(0.1)">3</text>
<line x1="26.70" y1="320.73" x2="29.10" y2="320.73" stroke="#0d0d0d" stroke-width="1.0"/>
<text font-size="49.0" font-weight="bold" stroke="#0d0d0d" stroke-width="1.80" text-anchor="end" fill="#0d0d0d" transform="translate(24.60 322.73) rotate(0.03) scale(0.1)">2</text>
<line x1="26.70" y1="356.17" x2="29.10" y2="356.17" stroke="#0d0d0d" stroke-width="1.0"/>
<text font-size="49.0" font-weight="bold" stroke="#0d0d0d" stroke-width="1.80" text-anchor="end" fill="#0d0d0d" transform="translate(24.60 358.17) rotate(0.03) scale(0.1)">1</text>
<line x1="26.70" y1="391.60" x2="29.10" y2="391.60" stroke="#0d0d0d" stroke-width="1.0"/>
<text font-size="44.1" font-weight="bold" stroke="#0d0d0d" stroke-width="1.80" text-anchor="end" fill="#0d0d0d" transform="translate(24.10 393.50) rotate(0.03) scale(0.1)">0</text>
<line x1="29.10" y1="391.60" x2="29.10" y2="394.00" stroke="#0d0d0d" stroke-width="1.0"/>
<line x1="66.63" y1="391.60" x2="66.63" y2="394.00" stroke="#0d0d0d" stroke-width="1.0"/>
<line x1="104.17" y1="391.60" x2="104.17" y2="394.00" stroke="#0d0d0d" stroke-width="1.0"/>
<line x1="141.70" y1="391.60" x2="141.70" y2="394.00" stroke="#0d0d0d" stroke-width="1.0"/>
<text font-size="56.5" font-weight="bold" stroke="#0d0d0d" stroke-width="1.80" text-anchor="middle" fill="#0d0d0d" transform="translate(47.67 402.00) rotate(0.03) scale(0.1)">Control</text>
<text font-size="56.5" font-weight="bold" stroke="#0d0d0d" stroke-width="1.80" text-anchor="middle" fill="#0d0d0d" transform="translate(85.20 402.00) rotate(0.03) scale(0.1)">FLT3-WT</text>
<text font-size="56.5" font-weight="bold" stroke="#0d0d0d" stroke-width="1.80" text-anchor="middle" fill="#0d0d0d" transform="translate(122.73 402.00) rotate(0.03) scale(0.1)">FLT3-ITD</text>
<text font-size="72.0" text-anchor="middle" fill="#222" transform="translate(17.70 339.15) rotate(-90) scale(0.1)">SOCS1 expression / GAPDH</text>
<text font-size="108.0" font-weight="bold" stroke="#0d0d0d" stroke-width="2.50" text-anchor="start" fill="#0d0d0d" transform="translate(1.30 285.00) rotate(0.03) scale(0.1)">G</text>
<text font-size="57.0" font-weight="bold" stroke="#0d0d0d" stroke-width="1.80" text-anchor="start" fill="#0d0d0d" transform="translate(69.50 298.00) rotate(0.03) scale(0.1)">human AML</text>
<text font-size="69" font-weight="bold" stroke="#0d0d0d" stroke-width="2.2" text-anchor="middle" fill="#0d0d0d" transform="translate(122.90 299.35) rotate(0.03) scale(0.1)">*</text>
<rect x="195.67" y="372.14" width="25.20" height="19.26" fill="#fff" stroke="#0d0d0d" stroke-width="1.3"/>
<line x1="208.27" y1="366.44" x2="208.27" y2="377.06" stroke="#0d0d0d" stroke-width="1.25"/>
<line x1="206.97" y1="366.44" x2="209.57" y2="366.44" stroke="#0d0d0d" stroke-width="1.25"/>
<line x1="206.97" y1="377.06" x2="209.57" y2="377.06" stroke="#0d0d0d" stroke-width="1.25"/>
<rect x="233.20" y="340.28" width="25.20" height="51.12" fill="#c9c9c9" stroke="#0d0d0d" stroke-width="1.3"/>
<line x1="245.80" y1="322.90" x2="245.80" y2="356.88" stroke="#0d0d0d" stroke-width="1.25"/>
<line x1="244.50" y1="322.90" x2="247.10" y2="322.90" stroke="#0d0d0d" stroke-width="1.25"/>
<line x1="244.50" y1="356.88" x2="247.10" y2="356.88" stroke="#0d0d0d" stroke-width="1.25"/>
<rect x="270.73" y="331.38" width="25.20" height="60.02" fill="#0d0d0d" stroke="#0d0d0d" stroke-width="1.3"/>
<line x1="283.33" y1="310.56" x2="283.33" y2="330.73" stroke="#0d0d0d" stroke-width="1.25"/>
<line x1="282.03" y1="310.56" x2="284.63" y2="310.56" stroke="#0d0d0d" stroke-width="1.25"/>
<line x1="282.03" y1="330.73" x2="284.63" y2="330.73" stroke="#0d0d0d" stroke-width="1.25"/>
<rect x="189.50" y="285.20" width="112.60" height="106.20" fill="none" stroke="#0d0d0d" stroke-width="1.4"/>
<line x1="187.10" y1="285.20" x2="189.50" y2="285.20" stroke="#0d0d0d" stroke-width="1.0"/>
<text font-size="49.0" font-weight="bold" stroke="#0d0d0d" stroke-width="1.80" text-anchor="end" fill="#0d0d0d" transform="translate(184.50 287.10) rotate(0.03) scale(0.1)">8</text>
<line x1="187.10" y1="311.75" x2="189.50" y2="311.75" stroke="#0d0d0d" stroke-width="1.0"/>
<text font-size="49.0" font-weight="bold" stroke="#0d0d0d" stroke-width="1.80" text-anchor="end" fill="#0d0d0d" transform="translate(184.50 313.65) rotate(0.03) scale(0.1)">6</text>
<line x1="187.10" y1="338.30" x2="189.50" y2="338.30" stroke="#0d0d0d" stroke-width="1.0"/>
<text font-size="49.0" font-weight="bold" stroke="#0d0d0d" stroke-width="1.80" text-anchor="end" fill="#0d0d0d" transform="translate(184.50 340.20) rotate(0.03) scale(0.1)">4</text>
<line x1="187.10" y1="364.85" x2="189.50" y2="364.85" stroke="#0d0d0d" stroke-width="1.0"/>
<text font-size="49.0" font-weight="bold" stroke="#0d0d0d" stroke-width="1.80" text-anchor="end" fill="#0d0d0d" transform="translate(184.50 366.75) rotate(0.03) scale(0.1)">2</text>
<line x1="187.10" y1="391.40" x2="189.50" y2="391.40" stroke="#0d0d0d" stroke-width="1.0"/>
<text font-size="44.1" font-weight="bold" stroke="#0d0d0d" stroke-width="1.80" text-anchor="end" fill="#0d0d0d" transform="translate(184.00 393.20) rotate(0.03) scale(0.1)">0</text>
<line x1="189.50" y1="391.40" x2="189.50" y2="393.80" stroke="#0d0d0d" stroke-width="1.0"/>
<line x1="227.03" y1="391.40" x2="227.03" y2="393.80" stroke="#0d0d0d" stroke-width="1.0"/>
<line x1="264.57" y1="391.40" x2="264.57" y2="393.80" stroke="#0d0d0d" stroke-width="1.0"/>
<line x1="302.10" y1="391.40" x2="302.10" y2="393.80" stroke="#0d0d0d" stroke-width="1.0"/>
<text font-size="56.5" font-weight="bold" stroke="#0d0d0d" stroke-width="1.80" text-anchor="middle" fill="#0d0d0d" transform="translate(208.27 402.00) rotate(0.03) scale(0.1)">Control</text>
<text font-size="56.5" font-weight="bold" stroke="#0d0d0d" stroke-width="1.80" text-anchor="middle" fill="#0d0d0d" transform="translate(245.80 402.00) rotate(0.03) scale(0.1)">FLT3-WT</text>
<text font-size="56.5" font-weight="bold" stroke="#0d0d0d" stroke-width="1.80" text-anchor="middle" fill="#0d0d0d" transform="translate(283.33 402.00) rotate(0.03) scale(0.1)">FLT3-ITD</text>
<text font-size="72.0" text-anchor="middle" fill="#222" transform="translate(176.80 339.00) rotate(-90) scale(0.1)">SOCS3 expression / GAPDH</text>
<text font-size="108.0" font-weight="bold" stroke="#0d0d0d" stroke-width="2.50" text-anchor="start" fill="#0d0d0d" transform="translate(157.70 284.70) rotate(0.03) scale(0.1)">H</text>
<text font-size="57.0" font-weight="bold" stroke="#0d0d0d" stroke-width="1.80" text-anchor="start" fill="#0d0d0d" transform="translate(229.50 298.00) rotate(0.03) scale(0.1)">human AML</text>
<text font-size="108.0" font-weight="bold" stroke="#0d0d0d" stroke-width="2.50" text-anchor="start" fill="#0d0d0d" transform="translate(313.60 9.00) rotate(0.03) scale(0.1)">C</text>
<text font-size="83.5" font-weight="bold" stroke="#0d0d0d" stroke-width="1.80" text-anchor="middle" fill="#0d0d0d" transform="translate(334.50 16.00) rotate(0.03) scale(0.1)">-</text>
<text font-size="62.0" font-weight="bold" stroke="#0d0d0d" stroke-width="1.80" text-anchor="middle" fill="#0d0d0d" transform="translate(355.60 15.60) rotate(0.03) scale(0.1)">+</text>
<text font-size="83.5" stroke="#0d0d0d" stroke-width="1.80" text-anchor="start" fill="#0d0d0d" transform="translate(372.00 16.00) rotate(0.03) scale(0.1)">Sorafenib</text>
<text font-size="83.5" stroke="#0d0d0d" stroke-width="1.80" text-anchor="start" fill="#0d0d0d" transform="translate(372.00 33.00) rotate(0.03) scale(0.1)">p-FLT3</text>
<text font-size="83.5" stroke="#0d0d0d" stroke-width="1.80" text-anchor="start" fill="#0d0d0d" transform="translate(372.00 50.00) rotate(0.03) scale(0.1)">t-FLT3</text>
<text font-size="88.0" stroke="#0d0d0d" stroke-width="1.50" text-anchor="middle" fill="#0d0d0d" transform="translate(345.10 71.40) rotate(0.03) scale(0.1)">IP- FLT3</text>
<rect x="325.7" y="21.9" width="39.8" height="15.9" fill="url(#pg)"/>
<g clip-path="url(#cp1)">
<ellipse cx="336.8" cy="28.2" rx="7" ry="5.0" fill="#8a8a8a" filter="url(#b2)"/>
<ellipse cx="355" cy="28" rx="6" ry="3.5" fill="#c0c0c0" filter="url(#b2)"/>
<rect x="325" y="35.8" width="41" height="3" fill="#f6f6f6" filter="url(#b1)"/>
</g>
<rect x="325.7" y="21.9" width="39.8" height="15.9" fill="none" stroke="#0c0c0c" stroke-width="1.3"/>
<rect x="325.7" y="41" width="39.8" height="15.5" fill="#858585"/>
<g clip-path="url(#cp2)">
<rect x="345.2" y="41" width="2.6" height="15.5" fill="#d4d4d4" filter="url(#b05)"/>
<rect x="327.6" y="43.0" width="17.3" height="11.9" rx="1.2" fill="#040404" filter="url(#b05)"/>
<rect x="348.0" y="43.0" width="16.2" height="11.9" rx="1.2" fill="#040404" filter="url(#b05)"/>
</g>
<rect x="325.7" y="41" width="39.8" height="15.5" fill="none" stroke="#0c0c0c" stroke-width="1.3"/>
<line x1="325.20" y1="62.30" x2="366.00" y2="62.30" stroke="#0c0c0c" stroke-width="1.4"/>
<text font-size="83.5" font-weight="bold" stroke="#0d0d0d" stroke-width="1.80" text-anchor="middle" fill="#0d0d0d" transform="translate(445.00 16.00) rotate(0.03) scale(0.1)">-</text>
<text font-size="62.0" font-weight="bold" stroke="#0d0d0d" stroke-width="1.80" text-anchor="middle" fill="#0d0d0d" transform="translate(467.60 15.60) rotate(0.03) scale(0.1)">+</text>
<text font-size="85.5" stroke="#0d0d0d" stroke-width="1.80" text-anchor="start" fill="#0d0d0d" transform="translate(483.60 16.00) rotate(0.03) scale(0.1)">Sorafenib</text>
<text font-size="83.5" stroke="#0d0d0d" stroke-width="1.80" text-anchor="start" fill="#0d0d0d" transform="translate(483.60 35.00) rotate(0.03) scale(0.1)">SOCS1</text>
<text font-size="83.5" stroke="#0d0d0d" stroke-width="1.80" text-anchor="start" fill="#0d0d0d" transform="translate(483.60 56.00) rotate(0.03) scale(0.1)">Actin</text>
<rect x="436.4" y="25.6" width="39.6" height="15.2" fill="#efefef"/>
<g clip-path="url(#cp3)">
<rect x="439" y="29.6" width="16.4" height="6.0" rx="3" fill="#b4b4b4" filter="url(#b1)"/>
<rect x="457" y="30.6" width="17" height="4.6" rx="2.3" fill="#d2d2d2" filter="url(#b1)"/>
<rect x="440" y="30.5" width="14.4" height="4.0" rx="2" fill="#1c1c1c" filter="url(#b05)"/>
<ellipse cx="442.2" cy="32.5" rx="2.7" ry="2.5" fill="#050505" filter="url(#b05)"/>
<ellipse cx="452.2" cy="32.5" rx="2.7" ry="2.5" fill="#050505" filter="url(#b05)"/>
<rect x="458" y="32.2" width="15" height="2.6" rx="1.3" fill="#a2a2a2" filter="url(#b05)"/>
<ellipse cx="460.6" cy="33.4" rx="2.2" ry="1.7" fill="#7c7c7c" filter="url(#b05)"/>
<ellipse cx="472" cy="33.0" rx="1.7" ry="2.2" fill="#6c6c6c" filter="url(#b05)"/>
</g>
<rect x="436.4" y="25.6" width="39.6" height="15.2" fill="none" stroke="#0c0c0c" stroke-width="1.3"/>
<rect x="436.4" y="46.2" width="39.6" height="15.2" fill="#efefef"/>
<g clip-path="url(#cp4)">
<rect x="437.6" y="50.2" width="37.4" height="7.2" rx="3.6" fill="#b8b8b8" filter="url(#b1)"/>
<rect x="438.2" y="51.1" width="36.2" height="5.2" rx="2.6" fill="#050505" filter="url(#b05)"/>
</g>
<rect x="436.4" y="46.2" width="39.6" height="15.2" fill="none" stroke="#0c0c0c" stroke-width="1.3"/>
</svg>
</body></html>
